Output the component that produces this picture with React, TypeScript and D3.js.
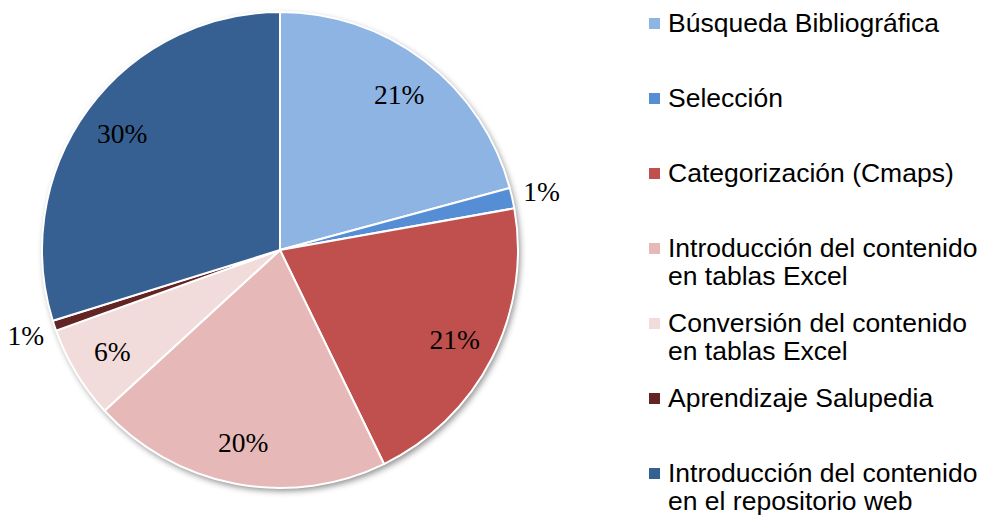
import React, { useRef, useEffect } from "react";
import * as d3 from "d3";

const categories = [
  "Búsqueda Bibliográfica",
  "Selección",
  "Categorización (Cmaps)",
  "Introducción del contenido en tablas Excel",
  "Conversión del contenido en tablas Excel",
  "Aprendizaje Salupedia",
  "Introducción del contenido en el repositorio web",
];
const legendLines = [
  ["Búsqueda Bibliográfica"],
  ["Selección"],
  ["Categorización (Cmaps)"],
  ["Introducción del contenido", "en tablas Excel"],
  ["Conversión del contenido", "en tablas Excel"],
  ["Aprendizaje Salupedia"],
  ["Introducción del contenido", "en el repositorio web"],
];
const values = [20.8, 1.4, 20.6, 20.4, 6.3, 0.7, 29.8];
const colors = ["#8EB4E3", "#558ED5", "#C0504D", "#E6B9B8", "#F2DCDB", "#632523", "#376092"];

const WIDTH = 983;
const HEIGHT = 517;

const PieChart = () => {
  const svgRef = useRef<SVGSVGElement>(null);

  useEffect(() => {
    const svg = d3.select(svgRef.current);
    svg.selectAll("*").remove();

    const cx = 280;
    const cy = 250;
    const radius = 238;
    const total = d3.sum(values);

    const defs = svg.append("defs");
    const filter = defs
      .append("filter")
      .attr("id", "shadow")
      .attr("x", "-10%")
      .attr("y", "-10%")
      .attr("width", "120%")
      .attr("height", "120%");
    filter
      .append("feDropShadow")
      .attr("dx", 2)
      .attr("dy", 3)
      .attr("stdDeviation", 3)
      .attr("flood-color", "#000")
      .attr("flood-opacity", 0.45);

    const pie = d3
      .pie<number>()
      .sort(null)
      .value((d) => d);
    const arcs = pie(values);

    const arc = d3.arc<d3.PieArcDatum<number>>().innerRadius(0).outerRadius(radius);

    const g = svg.append("g").attr("transform", `translate(${cx},${cy})`);

    // white disc underneath so the shadow is cast by the whole pie
    g.append("circle").attr("r", radius).attr("fill", "#fff").attr("filter", "url(#shadow)");

    g.selectAll("path.slice")
      .data(arcs)
      .join("path")
      .attr("class", "slice")
      .attr("d", arc)
      .attr("fill", (d, i) => colors[i])
      .attr("stroke", "#fff")
      .attr("stroke-width", 2)
      .attr("stroke-linejoin", "round");

    const inside = d3.arc<d3.PieArcDatum<number>>().innerRadius(196).outerRadius(196);
    const outside = d3.arc<d3.PieArcDatum<number>>().innerRadius(268).outerRadius(268);

    g.selectAll("text.pct")
      .data(arcs)
      .join("text")
      .attr("class", "pct")
      .attr("transform", (d) => {
        const share = d.value / total;
        const [x, y] = share < 0.03 ? outside.centroid(d) : inside.centroid(d);
        return `translate(${x},${y})`;
      })
      .attr("text-anchor", "middle")
      .attr("dy", "0.35em")
      .style("font-family", "'Liberation Serif', 'Times New Roman', serif")
      .style("font-size", "27.5px")
      .attr("fill", "#000")
      .text((d) => `${Math.round((d.value / total) * 100)}%`);

    const legendY = d3
      .scalePoint<string>()
      .domain(categories)
      .range([32, 482]);

    const legend = svg
      .append("g")
      .selectAll("g")
      .data(categories)
      .join("g")
      .attr("transform", (d) => `translate(649,${legendY(d)})`);

    legend
      .append("rect")
      .attr("x", 0)
      .attr("y", -14)
      .attr("width", 11)
      .attr("height", 11)
      .attr("fill", (d, i) => colors[i]);

    legend
      .append("text")
      .attr("x", 19)
      .style("font-family", "'Liberation Sans', Arial, sans-serif")
      .style("font-size", "26.5px")
      .attr("fill", "#000")
      .selectAll("tspan")
      .data((d, i) => legendLines[i])
      .join("tspan")
      .attr("x", 19)
      .attr("y", (d, j) => j * 28)
      .text((d) => d);
  }, []);

  return (
    <svg
      ref={svgRef}
      width={WIDTH}
      height={HEIGHT}
      style={{ position: "absolute", left: 0, top: 0, background: "#fff" }}
    />
  );
};

export default function App() {
  return <PieChart />;
}
